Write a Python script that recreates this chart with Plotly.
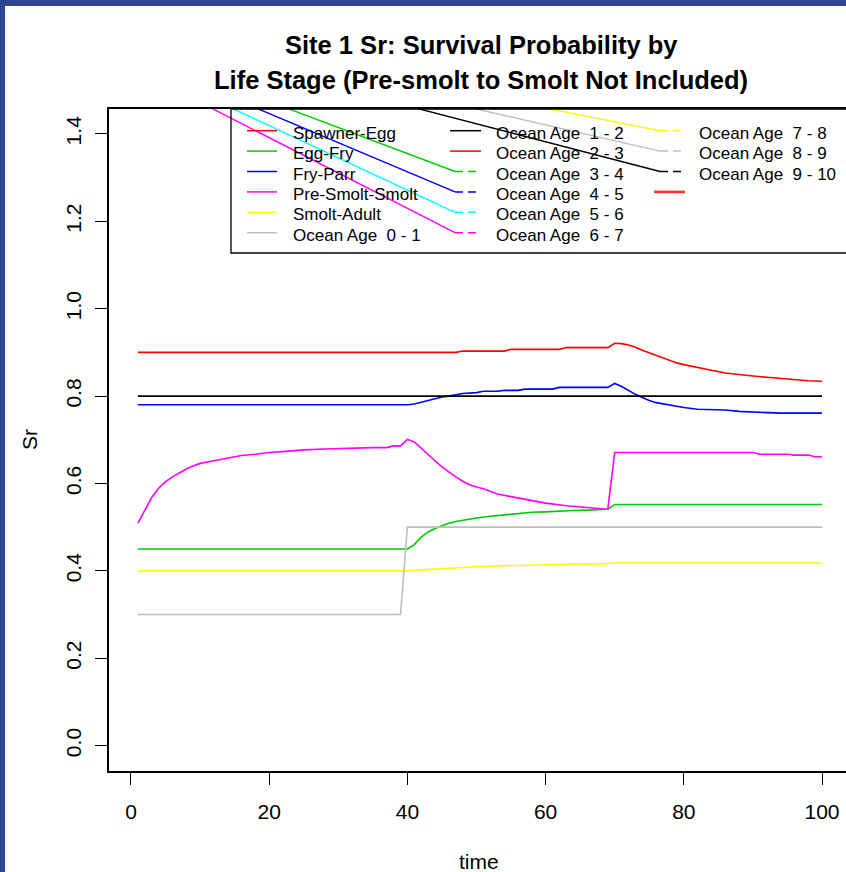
import plotly.graph_objects as go

# ---------------- data ----------------
t_spawner_egg = [1, 47, 48, 54, 55, 62, 63, 69, 70, 71, 72, 73, 74, 75, 76, 77, 78, 79, 80, 82, 84, 86, 88, 90, 92, 94, 96, 98, 100]
v_spawner_egg = [0.90, 0.90, 0.903, 0.903, 0.907, 0.907, 0.911, 0.911, 0.921, 0.920, 0.917, 0.912, 0.905, 0.899, 0.893,
                 0.887, 0.881, 0.876, 0.872, 0.865, 0.859, 0.853, 0.849, 0.846, 0.843, 0.840, 0.837, 0.835, 0.834]

t_egg_fry = [1, 40, 41, 42, 43, 44, 45, 46, 47, 48, 49, 50, 52, 54, 56, 58, 60, 62, 64, 66, 69, 70, 100]
v_egg_fry = [0.45, 0.45, 0.460, 0.477, 0.489, 0.497, 0.503, 0.509, 0.513, 0.516, 0.519, 0.521, 0.525, 0.528,
             0.531, 0.534, 0.535, 0.537, 0.538, 0.539, 0.541, 0.552, 0.552]

t_fry_parr = [1, 40, 41, 42, 43, 44, 45, 46, 47, 48, 50, 51, 53, 54, 56, 57, 61, 62, 69, 70, 71, 72, 73, 74, 75, 76,
              78, 80, 82, 86, 88, 94, 100]
v_fry_parr = [0.78, 0.78, 0.782, 0.786, 0.790, 0.795, 0.798, 0.800, 0.803, 0.806, 0.808, 0.811, 0.811, 0.813, 0.813,
              0.816, 0.816, 0.820, 0.820, 0.829, 0.822, 0.812, 0.804, 0.797, 0.790, 0.785, 0.779, 0.774, 0.770,
              0.768, 0.765, 0.761, 0.761]

t_presmolt = [1, 2, 3, 4, 5, 6, 7, 8, 9, 10, 12, 14, 16, 18, 20, 22, 25, 28, 31, 35, 37, 38, 39, 40, 41, 42, 43, 44,
              45, 46, 47, 48, 49, 50, 51, 52, 53, 55, 57, 60, 63, 66, 67, 69, 70, 90, 91, 95, 96, 98, 99, 100]
v_presmolt = [0.509, 0.540, 0.568, 0.589, 0.604, 0.615, 0.625, 0.633, 0.640, 0.646, 0.652, 0.658, 0.664, 0.667,
              0.671, 0.673, 0.677, 0.679, 0.681, 0.682, 0.682, 0.686, 0.686, 0.701, 0.695, 0.680, 0.665, 0.652,
              0.638, 0.626, 0.615, 0.605, 0.597, 0.592, 0.588, 0.582, 0.576, 0.570, 0.564, 0.555, 0.549, 0.545,
              0.542, 0.541, 0.671, 0.671, 0.667, 0.667, 0.665, 0.665, 0.661, 0.661]

t_smolt_adult = [1, 40, 44, 48, 52, 58, 62, 68, 70, 100]
v_smolt_adult = [0.40, 0.40, 0.404, 0.408, 0.411, 0.413, 0.415, 0.416, 0.418, 0.418]

t_ocean_0_1 = [1, 39, 40, 100]
v_ocean_0_1 = [0.30, 0.30, 0.50, 0.50]

t_ocean_1_2 = [1, 100]
v_ocean_1_2 = [0.80, 0.80]

x_ticks = [0, 20, 40, 60, 80, 100]
y_ticks = [0.0, 0.2, 0.4, 0.6, 0.8, 1.0, 1.2, 1.4]
y_tick_text = ["0.0", "0.2", "0.4", "0.6", "0.8", "1.0", "1.2", "1.4"]

legend_labels = ["Spawner-Egg", "Egg-Fry", "Fry-Parr", "Pre-Smolt-Smolt", "Smolt-Adult", "Ocean Age  0 - 1",
                 "Ocean Age  1 - 2", "Ocean Age  2 - 3", "Ocean Age  3 - 4", "Ocean Age  4 - 5",
                 "Ocean Age  5 - 6", "Ocean Age  6 - 7", "Ocean Age  7 - 8", "Ocean Age  8 - 9",
                 "Ocean Age  9 - 10", ""]
legend_colors = ["#FF0000", "#00CD00", "#0000FF", "#FF00FF", "#FFFF00", "#BEBEBE",
                 "#000000", "#FF0000", "#00CD00", "#0000FF", "#00FFFF", "#FF00FF",
                 "#FFFF00", "#BEBEBE", "#000000", "#FF3030"]
legend_dashed = [False] * 8 + [True] * 7 + [False]

# ---------------- layout geometry ----------------
W, H = 846, 872
ML, MR, MT, MB = 109, 0, 109, 101
X_RANGE = [-3.18, 103.47]
Y_RANGE = [-0.058, 1.457]
FONT = "Liberation Sans, Arial, Helvetica, sans-serif"
BORDER_LEFT = 5
BORDER_TOP = 6


def paper_x(px):
    return (px - ML) / (W - ML - MR)


def paper_y(py):
    return (H - MB - py) / (H - MT - MB)


def data_x(px):
    return X_RANGE[0] + paper_x(px) * (X_RANGE[1] - X_RANGE[0])


def data_y(py):
    return Y_RANGE[0] + paper_y(py) * (Y_RANGE[1] - Y_RANGE[0])


fig = go.Figure()

series = [
    (t_spawner_egg, v_spawner_egg, "#FF0000", "Spawner-Egg"),
    (t_egg_fry, v_egg_fry, "#00CD00", "Egg-Fry"),
    (t_fry_parr, v_fry_parr, "#0000FF", "Fry-Parr"),
    (t_presmolt, v_presmolt, "#FF00FF", "Pre-Smolt-Smolt"),
    (t_smolt_adult, v_smolt_adult, "#FFFF00", "Smolt-Adult"),
    (t_ocean_0_1, v_ocean_0_1, "#BEBEBE", "Ocean Age 0 - 1"),
    (t_ocean_1_2, v_ocean_1_2, "#000000", "Ocean Age 1 - 2"),
]
for tt, vv, col, name in series:
    fig.add_trace(go.Scatter(x=tt, y=vv, mode="lines", name=name,
                             line=dict(color=col, width=1.6), showlegend=False,
                             hoverinfo="x+y+name"))

shapes = []
annotations = []

# white page inside the blue frame (paper background is the frame colour)
shapes.append(dict(type="rect", xref="paper", yref="paper", layer="below",
                   x0=paper_x(BORDER_LEFT), x1=paper_x(W + 10), y0=paper_y(H + 10), y1=paper_y(BORDER_TOP),
                   line=dict(width=0), fillcolor="white"))

# ---------------- hand-drawn R style legend ----------------
row_y0, row_step = 130.7, 20.4
col_text_x = [291, 494, 697]
solid_seg = [(247, 277), (450, 481), (654, 685)]
dash_seg = [(247, 277), (455, 477), (660, 682)]

for i, (lab, col, dashed) in enumerate(zip(legend_labels, legend_colors, legend_dashed)):
    c, r = divmod(i, 6)
    y = row_y0 + r * row_step
    x0, x1 = dash_seg[c] if dashed else solid_seg[c]
    width = 2.6 if lab == "" else 1.5
    shapes.append(dict(type="line", xref="paper", yref="paper",
                       x0=paper_x(x0), x1=paper_x(x1), y0=paper_y(y), y1=paper_y(y),
                       line=dict(color=col, width=width, dash="8px,5px" if dashed else "solid")))
    if lab:
        annotations.append(dict(text=lab.replace("  ", " \u00a0"), xref="paper", yref="paper",
                                x=paper_x(col_text_x[c]), y=paper_y(y + 2.5),
                                xanchor="left", yanchor="middle", showarrow=False,
                                font=dict(family=FONT, size=17, color="black")))
        # the stray strokes that run from the page corner to each dashed key
        if dashed:
            fig.add_trace(go.Scatter(x=[data_x(0), data_x(x0)], y=[data_y(0), data_y(y)],
                                     mode="lines", line=dict(color=col, width=1.4),
                                     showlegend=False, hoverinfo="skip"))

# legend frame
shapes.append(dict(type="rect", xref="paper", yref="paper",
                   x0=paper_x(231), x1=paper_x(852), y0=paper_y(253), y1=paper_y(109),
                   line=dict(color="black", width=1.3), fillcolor="rgba(0,0,0,0)"))

# titles
annotations.append(dict(text="<b>Site 1 Sr: Survival Probability by</b>", xref="paper", yref="paper",
                        x=paper_x(481), y=paper_y(45), xanchor="center", yanchor="middle",
                        showarrow=False, font=dict(family=FONT, size=25.5, color="black")))
annotations.append(dict(text="<b>Life Stage (Pre-smolt to Smolt Not Included)</b>", xref="paper",
                        yref="paper", x=paper_x(481), y=paper_y(80), xanchor="center",
                        yanchor="middle", showarrow=False,
                        font=dict(family=FONT, size=25.5, color="black")))
annotations.append(dict(text="time", xref="paper", yref="paper", x=paper_x(479), y=paper_y(862),
                        xanchor="center", yanchor="middle", showarrow=False,
                        font=dict(family=FONT, size=21, color="black")))
annotations.append(dict(text="Sr", xref="paper", yref="paper", x=paper_x(29), y=paper_y(440),
                        xanchor="center", yanchor="middle", textangle=-90, showarrow=False,
                        font=dict(family=FONT, size=21, color="black")))

fig.update_layout(
    width=W, height=H,
    margin=dict(l=ML, r=MR, t=MT, b=MB, autoexpand=False),
    paper_bgcolor="#2f4790", plot_bgcolor="white",
    font=dict(family=FONT, size=21, color="black"),
    showlegend=False,
    shapes=shapes,
    annotations=annotations,
    xaxis=dict(range=X_RANGE, tickvals=x_ticks, ticks="outside", ticklen=12, tickwidth=1.2,
               tickcolor="black", showline=True, linecolor="black", linewidth=1.5, mirror=True,
               showgrid=False, zeroline=False, ticklabelstandoff=9,
               tickfont=dict(family=FONT, size=21, color="black")),
    yaxis=dict(range=Y_RANGE, tickvals=y_ticks, ticktext=y_tick_text, ticks="outside", ticklen=12,
               tickwidth=1.2, tickcolor="black", showline=True, linecolor="black", linewidth=1.5,
               mirror=False, showgrid=False, zeroline=False, tickangle=-90, ticklabelstandoff=6,
               tickfont=dict(family=FONT, size=21, color="black")),
)

fig.write_html("out.html", config={"displayModeBar": False},
               post_script="document.body.style.margin='0';document.body.style.overflow='hidden';")
